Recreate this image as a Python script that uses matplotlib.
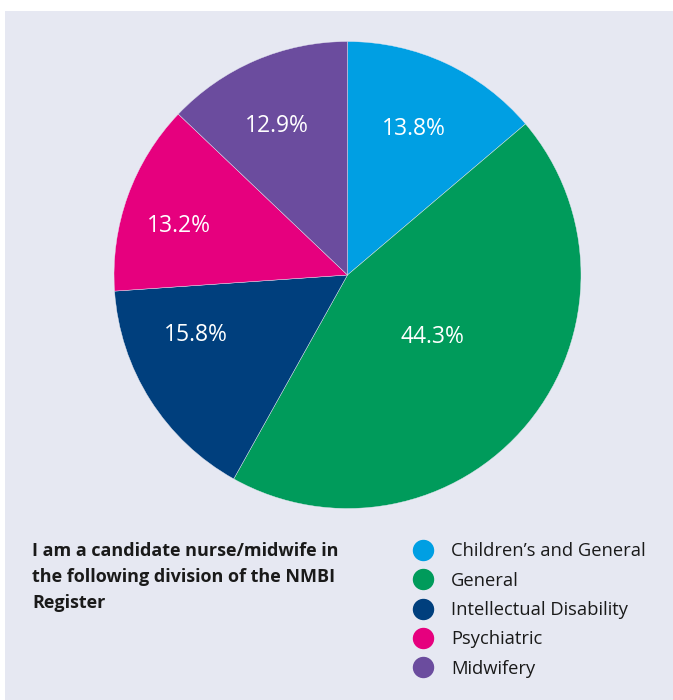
import matplotlib
matplotlib.use("Agg")
import matplotlib.pyplot as plt
import numpy as np
from matplotlib.patches import Rectangle

categories = ["Children\u2019s and General", "General", "Intellectual Disability", "Psychiatric", "Midwifery"]
values = [13.8, 44.3, 15.8, 13.2, 12.9]
pct_labels = ["13.8%", "44.3%", "15.8%", "13.2%", "12.9%"]
colors = ["#009FE3", "#009B5B", "#003F7D", "#E6007E", "#6B4C9E"]
title_text = "I am a candidate nurse/midwife in\nthe following division of the NMBI\nRegister"

plt.rcParams['font.family'] = ['Open Sans', 'DejaVu Sans']

W, H = 673, 700
fig = plt.figure(figsize=(W / 100, H / 100), dpi=100, facecolor="white")

# Overlay axes in pixel coordinates
bg = fig.add_axes([0, 0, 1, 1])
bg.set_xlim(0, W)
bg.set_ylim(H, 0)
bg.axis("off")
bg.add_patch(Rectangle((5, 11), W - 5, H - 11, facecolor="#E6E8F2", edgecolor="none", zorder=0))

# Pie axes
cx, cy, r = 347.5, 275, 233.5
ax = fig.add_axes([(cx - r) / W, (H - cy - r) / H, 2 * r / W, 2 * r / H])
wedges, _ = ax.pie(values, colors=colors, startangle=90, counterclock=False, radius=1,
                   wedgeprops=dict(edgecolor="#E6E8F2", linewidth=0.3))
ax.set_xlim(-1, 1)
ax.set_ylim(-1, 1)
ax.set_aspect("auto")
ax.axis("off")

# Percent labels placed along each wedge
label_r = [0.685, 0.45, 0.70, 0.75, 0.705]
label_dang = [0.4, 3.2, -10.7, 3.6, 2.3]
for w, lab, rr, da in zip(wedges, pct_labels, label_r, label_dang):
    ang = np.deg2rad((w.theta1 + w.theta2) / 2 + da)
    ax.text(rr * np.cos(ang), rr * np.sin(ang), lab, ha="center", va="center",
            color="white", fontsize=16.5)

# Title text
bg.text(32, 541.5, title_text, ha="left", va="top", fontsize=13, fontweight="bold",
        color="#1a1a1a", linespacing=1.6)

# Legend
ys = 550 + 29.25 * np.arange(len(categories))
for y, c, lab in zip(ys, colors, categories):
    bg.scatter([423], [y], s=20 ** 2 * 0.72 ** 2, color=c, zorder=3)
    bg.text(451, y + 1.5, lab, ha="left", va="center", fontsize=13.2, color="#1a1a1a")

fig.savefig("out.png", dpi=100, facecolor="white")
